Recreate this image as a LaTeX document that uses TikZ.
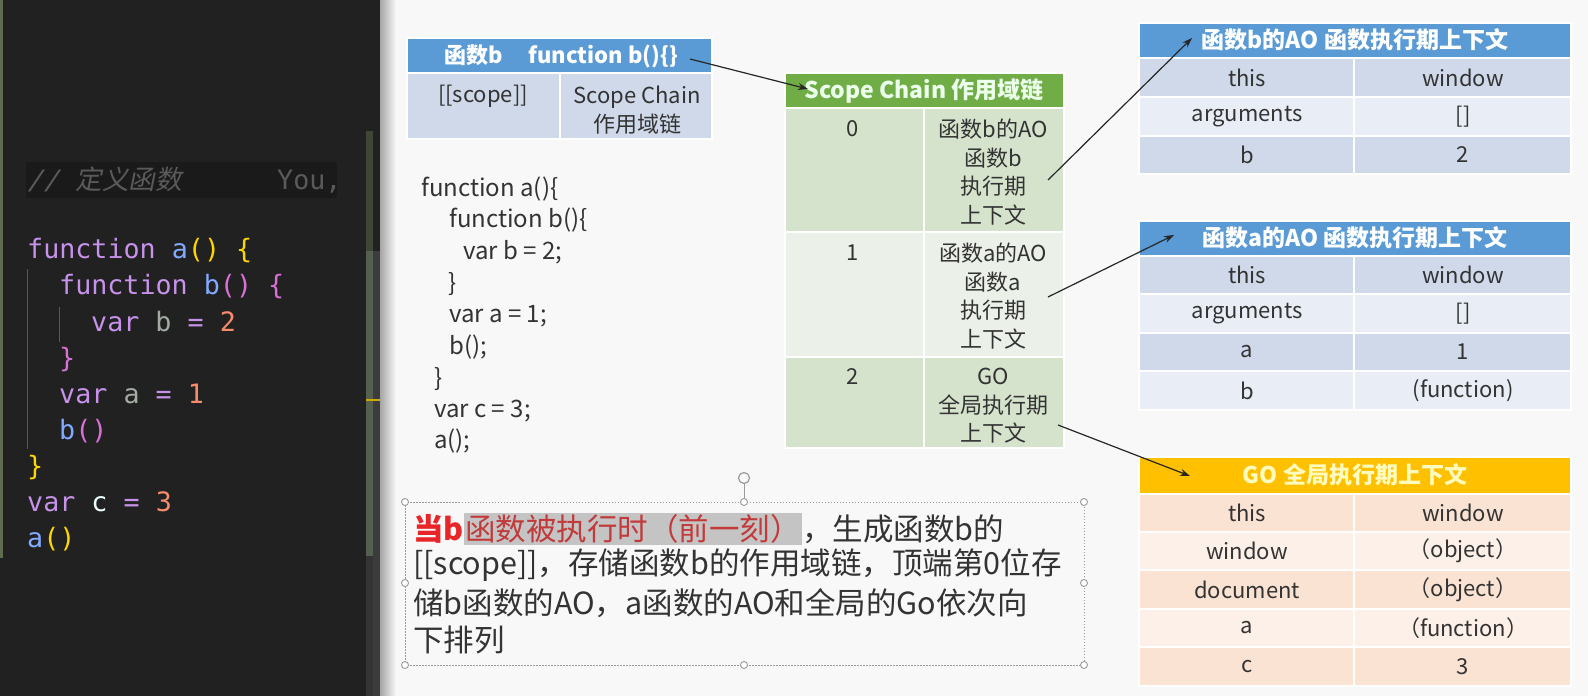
\documentclass[tikz,border=0pt]{standalone}
\usepackage{fontspec}
\setmainfont{Noto Sans CJK SC}
\newfontfamily\codefont{DejaVu Sans Mono}
\newfontfamily\codeslantfont{DejaVu Sans Mono}[FakeSlant=0.2]
\newfontfamily\cjkslantfont{Noto Sans CJK SC}[FakeSlant=0.2]
\usetikzlibrary{arrows.meta}
\definecolor{panelbg}{HTML}{212121}
\definecolor{commentbg}{HTML}{1A1A1A}
\definecolor{commentfg}{HTML}{5A5A5A}
\definecolor{kw}{HTML}{C792EA}
\definecolor{fn}{HTML}{82AAFF}
\definecolor{pa}{HTML}{FFD700}
\definecolor{pb}{HTML}{DA70D6}
\definecolor{vr}{HTML}{A3ABA3}
\definecolor{num}{HTML}{F78C6C}
\definecolor{wh}{HTML}{EEFFFF}
\definecolor{olive}{HTML}{5E6B4E}
\definecolor{sbdark}{HTML}{3E4736}
\definecolor{sblight}{HTML}{566050}
\definecolor{sbgray}{HTML}{3C3C3C}
\definecolor{slidebg}{HTML}{F8F8F8}
\definecolor{bluehd}{HTML}{5B9BD5}
\definecolor{bluedk}{HTML}{CFD9EA}
\definecolor{bluelt}{HTML}{E9EEF6}
\definecolor{greenhd}{HTML}{70AD47}
\definecolor{greendk}{HTML}{D5E3CD}
\definecolor{greenlt}{HTML}{EBF1E8}
\definecolor{goldhd}{HTML}{FFC000}
\definecolor{golddk}{HTML}{FBE3D4}
\definecolor{goldlt}{HTML}{FDF0E8}
\definecolor{txt}{HTML}{333333}
\definecolor{redtxt}{HTML}{E8262A}
\definecolor{dkred}{HTML}{C23A3A}
\definecolor{hlgray}{HTML}{C4C4C4}
\definecolor{handle}{HTML}{9A9A9A}
\newcommand\codesz{\fontsize{26.7pt}{32pt}\selectfont}
\newcommand\slidecodesz{\fontsize{24pt}{28pt}\selectfont}
\newcommand\cellsz{\fontsize{22pt}{28.5pt}\selectfont}
\newcommand\hdsz{\fontsize{23pt}{28pt}\selectfont}
\newcommand\fbhdsz{\fontsize{22pt}{28pt}\selectfont}
\newcommand\parasz{\fontsize{30.5pt}{37pt}\selectfont}
\tikzset{
  codeline/.style={anchor=base west, inner sep=0pt, font=\codefont\codesz},
  slidecode/.style={anchor=base west, inner sep=0pt, text=txt, font=\slidecodesz},
  cell/.style={draw=white, line width=1.6pt},
  celltext/.style={inner sep=0pt, text=txt, font=\cellsz, align=center},
  hdtext/.style={inner sep=0pt, text=white, font=\hdsz\bfseries},
  paraline/.style={anchor=west, inner sep=0pt, text=txt, font=\parasz},
  link/.style={draw=black!85, line width=1.2pt, -{Stealth[length=10pt,width=7pt]}},
  handlept/.style={circle, draw=handle, fill=white, line width=0.9pt, inner sep=0pt, minimum size=7pt}
}
\begin{document}
\begin{tikzpicture}[x=1pt,y=-1pt]
\useasboundingbox (0,0) rectangle (1588,696);
% ---------------- left editor panel ----------------
\fill[panelbg] (0,0) rectangle (380,696);
\fill[olive] (0,0) rectangle (3,558);
\fill[sbdark] (366,131) rectangle (373,251);
\fill[sblight] (366,251) rectangle (373,556);
\fill[sbgray] (373,251) rectangle (380,696);
\fill[sbgray!70!panelbg] (366,556) rectangle (373,696);
\fill[pa!80!black] (366,399) rectangle (380,401);
\fill[commentbg] (26,162) rectangle (337,198);
\node[codeline, text=commentfg] (cm1) at (27,189) {{\codeslantfont //} {\cjkslantfont 定义函数}};
\node[codeline, text=commentfg] (cm2) at (277,189) {You,};
\draw[white!25!panelbg, line width=0.8pt] (27,269) -- (27,449);
\draw[white!25!panelbg, line width=0.8pt] (59,307) -- (59,342);
\node[codeline] (c1) at (27,258) {\textcolor{kw}{function} \textcolor{fn}{a}\textcolor{pa}{()} \textcolor{pa}{\{}};
\node[codeline] (c2) at (59,294) {\textcolor{kw}{function} \textcolor{fn}{b}\textcolor{pb}{()} \textcolor{pb}{\{}};
\node[codeline] (c3) at (91,331) {\textcolor{kw}{var} \textcolor{vr}{b} \textcolor{kw}{=} \textcolor{num}{2}};
\node[codeline] (c4) at (59,367) {\textcolor{pb}{\}}};
\node[codeline] (c5) at (59,403) {\textcolor{kw}{var} \textcolor{vr}{a} \textcolor{kw}{=} \textcolor{num}{1}};
\node[codeline] (c6) at (59,439) {\textcolor{fn}{b}\textcolor{pb}{()}};
\node[codeline] (c7) at (27,475) {\textcolor{pa}{\}}};
\node[codeline] (c8) at (27,511) {\textcolor{kw}{var} \textcolor{wh}{c} \textcolor{kw}{=} \textcolor{num}{3}};
\node[codeline] (c9) at (27,547) {\textcolor{fn}{a}\textcolor{pa}{()}};
% ---------------- slide ----------------
\fill[slidebg] (380,0) rectangle (1588,696);
\shade[left color=black!35, right color=slidebg] (380,0) rectangle (396,696);
% top-left table
\fill[cell, fill=bluehd] (407,38) rectangle (712,73);
\fill[cell, fill=bluedk] (407,73) rectangle (560,139);
\fill[cell, fill=bluedk] (560,73) rectangle (712,139);
\node[hdtext, font=\fbhdsz\bfseries] (fbh) at (561,56) {函数b\hspace{26pt}function b()\{\}};
\coordinate (fbend) at (690,59);
\node[celltext] (scp) at (483,96) {[[scope]]};
\node[celltext] (scn) at (637,110) {Scope Chain\\作用域链};
% slide code
\node[slidecode] (s1) at (421,196) {function a()\{};
\node[slidecode] (s2) at (449,227) {function b()\{};
\node[slidecode] (s3) at (463,259) {var b = 2;};
\node[slidecode] (s4) at (448,291) {\}};
\node[slidecode] (s5) at (449,322) {var a = 1;};
\node[slidecode] (s6) at (449,354) {b();};
\node[slidecode] (s7) at (434,386) {\}};
\node[slidecode] (s8) at (434,417) {var c = 3;};
\node[slidecode] (s9) at (434,448) {a();};
% scope chain table
\fill[cell, fill=greenhd] (785,73) rectangle (1064,108);
\fill[cell, fill=greendk] (785,108) rectangle (924,232);
\fill[cell, fill=greendk] (924,108) rectangle (1064,232);
\fill[cell, fill=greenlt] (785,232) rectangle (924,357);
\fill[cell, fill=greenlt] (924,232) rectangle (1064,357);
\fill[cell, fill=greendk] (785,357) rectangle (924,448);
\fill[cell, fill=greendk] (924,357) rectangle (1064,448);
\node[hdtext, text=green!8!white] (sch) at (924,91) {Scope Chain 作用域链};
\coordinate (schin) at (808,89);
\node[celltext] (i0) at (853,129) {0};
\node[celltext] (i1) at (853,253) {1};
\node[celltext] (i2) at (853,377) {2};
\node[celltext] (r0) at (993,172) {函数b的AO\\函数b\\执行期\\上下文};
\node[celltext] (r1) at (993,296) {函数a的AO\\函数a\\执行期\\上下文};
\node[celltext] (r2) at (993,406) {GO\\全局执行期\\上下文};
\coordinate (r0out) at (1048,180);
\coordinate (r1out) at (1048,297);
\coordinate (r2out) at (1058,425);
% AO of b
\fill[cell, fill=bluehd] (1139,23) rectangle (1571,58);
\node[hdtext] (aobh) at (1355,40) {函数b的AO 函数执行期上下文};
\coordinate (aobin) at (1192,38);
\foreach \ya/\yb/\k/\v/\c [count=\i] in {58/97/this/window/bluedk, 97/136/arguments/[]/bluelt, 136/174/b/2/bluedk}{
  \fill[cell, fill=\c] (1139,\ya) rectangle (1354,\yb);
  \fill[cell, fill=\c] (1354,\ya) rectangle (1571,\yb);
  \node[celltext] (aobk\i) at (1247,{(\ya+\yb)/2}) {\k};
  \node[celltext] (aobv\i) at (1463,{(\ya+\yb)/2}) {\v};
}
% AO of a
\fill[cell, fill=bluehd] (1139,221) rectangle (1571,256);
\node[hdtext] (aoah) at (1355,238) {函数a的AO 函数执行期上下文};
\coordinate (aoain) at (1174,235);
\foreach \ya/\yb/\k/\v/\c [count=\i] in {256/294/this/window/bluedk, 294/333/arguments/[]/bluelt, 333/371/a/1/bluedk, 371/410/b/(function)/bluelt}{
  \fill[cell, fill=\c] (1139,\ya) rectangle (1354,\yb);
  \fill[cell, fill=\c] (1354,\ya) rectangle (1571,\yb);
  \node[celltext] (aoak\i) at (1247,{(\ya+\yb)/2}) {\k};
  \node[celltext] (aoav\i) at (1463,{(\ya+\yb)/2}) {\v};
}
% GO
\fill[cell, fill=goldhd] (1139,457) rectangle (1571,494);
\node[hdtext, text=yellow!25!white] (goh) at (1355,475) {GO 全局执行期上下文};
\coordinate (goin) at (1190,476);
\foreach \ya/\yb/\k/\v/\c [count=\i] in {494/532/this/window/golddk, 532/570/window/（object）/goldlt, 570/609/document/（object）/golddk, 609/647/a/（function）/goldlt, 647/686/c/3/golddk}{
  \fill[cell, fill=\c] (1139,\ya) rectangle (1354,\yb);
  \fill[cell, fill=\c] (1354,\ya) rectangle (1571,\yb);
  \node[celltext] (gok\i) at (1247,{(\ya+\yb)/2}) {\k};
  \node[celltext] (gov\i) at (1463,{(\ya+\yb)/2}) {\v};
}
% arrows
\draw[link] (fbend) -- (schin);
\draw[link] (r0out) -- (aobin);
\draw[link] (r1out) -- (aoain);
\draw[link] (r2out) -- (goin);
% selection box with paragraph
\draw[handle, line width=0.9pt, dash pattern=on 1.5pt off 1.5pt] (405,502) rectangle (1084,665);
\draw[handle, line width=0.9pt] (744,484) -- (744,502);
\node[circle, draw=handle, line width=1.2pt, inner sep=0pt, minimum size=11pt] (rot) at (744,478) {};
\foreach \hx/\hy [count=\i] in {405/502, 744/502, 1084/502, 405/583, 1084/583, 405/665, 744/665, 1084/665}{
  \node[handlept] (h\i) at (\hx,\hy) {};
}
\setlength{\fboxsep}{1.5pt}
\node[paraline] (p1) at (413,529) {{\bfseries\textcolor{redtxt}{当b}}\colorbox{hlgray}{\textcolor{dkred}{函数被执行时（前一刻）}}，生成函数b的};
\node[paraline] (p2) at (413,565) {[[scope]]，存储函数b的作用域链，顶端第0位存};
\node[paraline] (p3) at (413,603) {储b函数的AO，a函数的AO和全局的Go依次向};
\node[paraline] (p4) at (413,640) {下排列};
\end{tikzpicture}
\end{document}
